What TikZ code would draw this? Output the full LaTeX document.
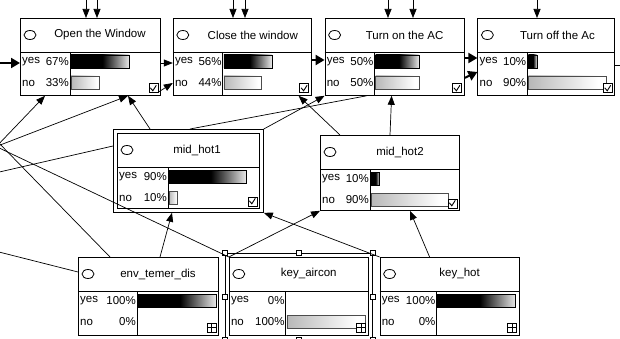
\documentclass[tikz,border=0pt]{standalone}
\usepackage{fontspec}
\setmainfont{Liberation Sans}
\usetikzlibrary{arrows.meta, positioning, calc, fit}

\pgfdeclarehorizontalshading{yesshade}{100bp}{color(0bp)=(black); color(25bp)=(black); color(52bp)=(black); color(75bp)=(black!8); color(100bp)=(black!8)}
\pgfdeclarehorizontalshading{noshade}{100bp}{color(0bp)=(black!28); color(25bp)=(black!28); color(70bp)=(white); color(100bp)=(white)}

\tikzset{
  box/.style={draw, rectangle, fill=white, line width=0.8pt, inner sep=0pt, anchor=north west, minimum width=139pt, minimum height=77pt},
  lbl/.style={inner sep=0pt, font=\fontsize{11.5}{12}\selectfont},
  yesbar/.style={shade, shading=yesshade, draw=black, line width=0.6pt},
  nobar/.style={shade, shading=noshade, draw=black!70, line width=0.5pt},
  arr/.style={-{Triangle[length=9pt,width=7pt]}, line width=0.7pt},
  bigarr/.style={-{Triangle[length=9pt,width=10pt]}, line width=2pt},
  handle/.style={draw, fill=white, inner sep=0pt, minimum size=5pt, line width=0.6pt}
}

% icons in the lower right corner of a box
\newcommand{\chkicon}{\draw[fill=white, line width=0.6pt] (-12,-12) rectangle (-3,-3);
  \draw[line width=0.9pt] (-10.5,-8) -- (-8,-5) -- (-4.5,-10.5);}
\newcommand{\expicon}{\draw[fill=white, line width=0.6pt] (-12,-13) rectangle (-3,-4);
  \draw[line width=0.6pt] (-12,-9) -- (-3,-9) (-7.5,-13) -- (-7.5,-4);}

% #1 node, #2 title, #3 yes, #4 no, #5 column, #6 bar length, #7 icon
\newcommand{\bnparts}[7]{%
  \draw[line width=0.8pt] ($(#1.north west)+(0,34)$) -- ($(#1.north east)+(0,34)$);
  \draw[line width=0.8pt] ($(#1.north west)+(#5,34)$) -- ($(#1.south west)+(#5,0)$);
  \draw[line width=0.8pt] ($(#1.north west)+(10,17)$) ellipse (6pt and 4.5pt);
  \node[lbl] (#1-t) at ($(#1.north west)+(80,17)$) {#2};
  \node[lbl, anchor=west] (#1-y) at ($(#1.north west)+(2,44)$) {yes};
  \node[lbl, anchor=east] (#1-yp) at ($(#1.north west)+(#5-1,44)$) {#3\%};
  \node[lbl, anchor=west] (#1-n) at ($(#1.north west)+(2,65)$) {no};
  \node[lbl, anchor=east] (#1-np) at ($(#1.north west)+(#5-1,65)$) {#4\%};
  \ifnum#3>0\relax
    \draw[yesbar] ($(#1.north west)+(#5+1,37)$) rectangle ($(#1.north west)+(#5+1+#3*#6/100,50)$);
  \fi
  \ifnum#4>0\relax
    \draw[nobar] ($(#1.north west)+(#5+1,58)$) rectangle ($(#1.north west)+(#5+1+#4*#6/100,71)$);
  \fi
  \begin{scope}[shift={(#1.south east)}]
    #7
  \end{scope}}

\begin{document}
\begin{tikzpicture}[x=1pt, y=-1pt]
\useasboundingbox (0,0) rectangle (620,339);
\clip (0,0) rectangle (620,339);

% decision nodes
\node[box, minimum width=140pt] (open) at (20,18) {};
\node[box, minimum width=138pt, right=12pt of open] (close) {};
\node[box, right=13pt of close] (ton) {};
\node[box, minimum width=137pt, right=13pt of ton] (toff) {};
% middle nodes
\node[box, minimum width=142pt, minimum height=75pt] (mid1) at (117,133) {};
\draw[line width=1.6pt] ($(mid1.north west)+(-3.5,-3.5)$) rectangle ($(mid1.south east)+(3.5,3.5)$);
\node[box, minimum height=75pt] (mid2) at (320,135) {};
% evidence nodes
\node[box, minimum width=140pt, minimum height=78pt] (env) at (78,257) {};
\node[box, minimum height=78pt, right=10pt of env] (keyac) {};
\node[box, minimum height=78pt, right=11pt of keyac] (khot) {};

\bnparts{open}{Open the Window}{67}{33}{50}{87}{\chkicon}
\bnparts{close}{Close the window}{56}{44}{50}{86}{\chkicon}
\bnparts{ton}{Turn on the AC}{50}{50}{50}{87}{\chkicon}
\bnparts{toff}{Turn off the Ac}{10}{90}{50}{86}{\chkicon}
\bnparts{mid1}{mid\_hot1}{90}{10}{51}{86}{\chkicon}
\bnparts{mid2}{mid\_hot2}{10}{90}{50}{86}{\chkicon}
\bnparts{env}{env\_temer\_dis}{100}{0}{59}{78}{\expicon}
\bnparts{keyac}{key\_aircon}{0}{100}{57}{78}{\expicon}
\bnparts{khot}{key\_hot}{100}{0}{57}{78}{\expicon}

% selection frame
\node[draw, line width=0.5pt, inner xsep=3.5pt, inner ysep=3.5pt, fit=(keyac)] (sel) {};
\foreach \a [count=\i] in {north west,north,north east,west,east,south west,south,south east}
  \node[handle] (hd\i) at (sel.\a) {};

% links from above
\foreach \x [count=\i] in {86,97,233,245,388,413,537} {
  \coordinate (up\i) at (\x,-4);
  \draw[arr] (up\i) -- (up\i |- open.north);
}

% links along the top row
\coordinate (wl) at (-5,63);
\coordinate (er) at (625,65);
\draw[bigarr] (wl) -- ($(open.north west)+(0,45)$);
\draw[arr] ($(open.north east)+(0,45)$) -- ($(close.north west)+(0,45)$);
\draw[arr] ($(open.south east)+(-2,-4)$) -- ($(close.north west)+(0,65)$);
\draw[bigarr] ($(close.north east)+(0,42)$) -- ($(ton.north west)+(0,42)$);
\draw[bigarr] ($(ton.north east)+(0,40)$) -- ($(toff.north west)+(0,40)$);
\draw[bigarr] ($(ton.north east)+(0,60)$) -- ($(toff.north west)+(0,54)$);
\draw[line width=0.7pt] ($(toff.north east)+(0,47)$) -- (er);

% links from the left
\coordinate (w1) at (-5,148);
\coordinate (w2) at (-5,147);
\coordinate (w3) at (-5,146);
\coordinate (w4) at (-5,139);
\coordinate (w5) at (-5,173);
\coordinate (w6) at (-5,251);
\draw[arr] (w1) -- ($(open.south west)+(25,0)$);
\draw[arr] (w2) -- ($(open.south west)+(108,0)$);
\draw[line width=0.7pt] (w3) -- (keyac.north west);
\draw[line width=0.7pt] (w4) -- ($(env.north west)+(32,0)$);
\draw[line width=0.7pt] (w5) -- ($(mid1.north west)+(-4,13)$);
\draw[line width=0.7pt] (w6) -- ($(env.north west)+(0,15)$);

% links between the boxes
\draw[arr] ($(mid1.north west)+(33,-4)$) -- ($(open.south west)+(108,0)$);
\draw[arr] ($(mid1.north east)+(4,-4)$) -- (ton.south west);
\draw[line width=0.7pt] ($(mid1.north west)+(73,-4)$) -- ($(ton.south west)+(42,0)$);
\draw[arr] ($(mid2.north west)+(20,0)$) -- ($(close.south east)+(-13,0)$);
\draw[arr] ($(mid2.north west)+(70,0)$) -- ($(ton.south west)+(67,0)$);
\draw[arr] ($(env.north west)+(82,0)$) -- ($(mid1.south west)+(55,4)$);
\draw[arr] (keyac.north west) -- (mid2.south west);
\draw[arr] (khot.north west) -- ($(mid1.south east)+(4,4)$);
\draw[arr] ($(khot.north west)+(50,0)$) -- ($(mid2.south west)+(90,0)$);
\end{tikzpicture}
\end{document}
